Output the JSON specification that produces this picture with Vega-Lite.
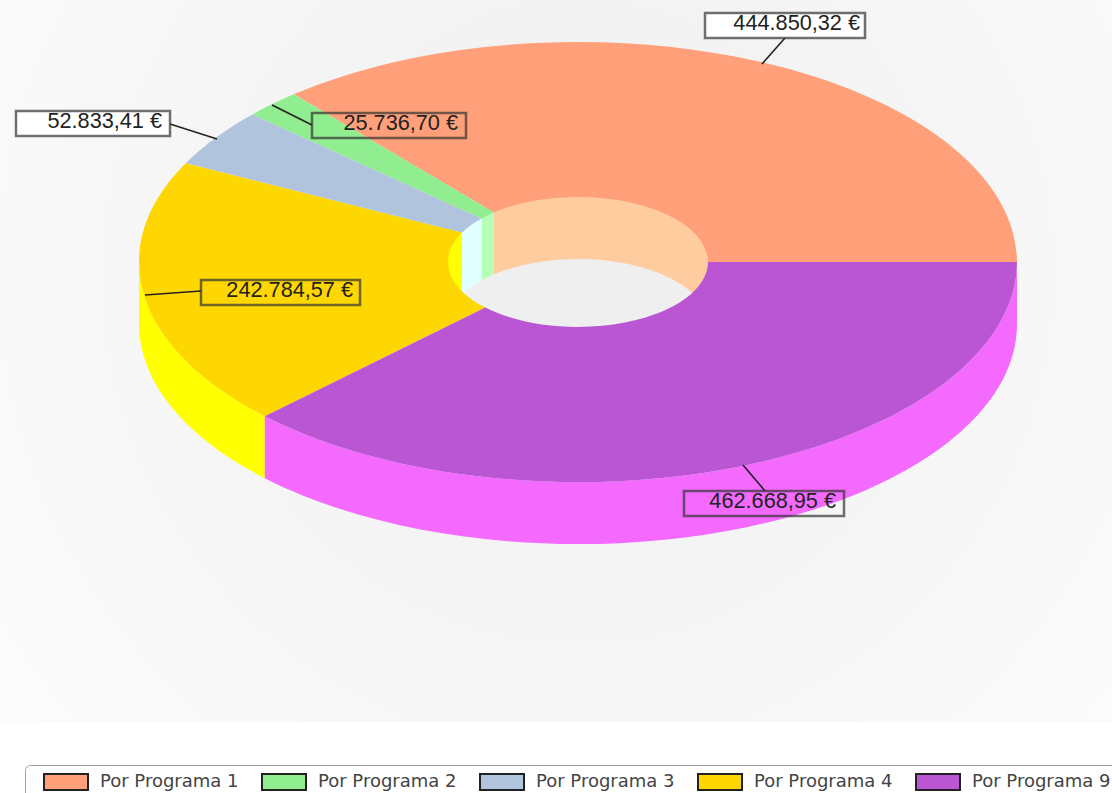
{
"$schema":"https://vega.github.io/schema/vega-lite/v6.json",
"width":1112,"height":793,"padding":0,"autosize":{"type":"none"},
"background":"white",
"config":{"view":{"stroke":null},"font":"Liberation Sans"},
"datasets":{
"fondo":[{"x0":0,"x1":1112,"y0":0,"y1":722}],
"partes":[
{"parte":"Hueco 1","pieza":"h1"},
{"parte":"Hueco 2","pieza":"h2"},
{"parte":"Hueco 3","pieza":"h3"},
{"parte":"Hueco 4","pieza":"h4"},
{"parte":"Fondo hueco","pieza":"fh"},
{"parte":"Lateral 4","pieza":"l4"},
{"parte":"Lateral 9","pieza":"l9"},
{"parte":"Por Programa 1","pieza":"p1","importe":444850.32},
{"parte":"Por Programa 2","pieza":"p2","importe":25736.70},
{"parte":"Por Programa 3","pieza":"p3","importe":52833.41},
{"parte":"Por Programa 4","pieza":"p4","importe":242784.57},
{"parte":"Por Programa 9","pieza":"p9","importe":462668.95}
],
"etiquetas":[
{"programa":"Por Programa 1","texto":"444.850,32 €","bx0":705,"bx1":865,"by0":13,"by1":38,"tx":860,"ty":30,"lx0":785,"ly0":38,"lx1":762,"ly1":64},
{"programa":"Por Programa 2","texto":"25.736,70 €","bx0":312,"bx1":466,"by0":113,"by1":138,"tx":458,"ty":130,"lx0":272,"ly0":105,"lx1":312,"ly1":125},
{"programa":"Por Programa 3","texto":"52.833,41 €","bx0":16,"bx1":170,"by0":111,"by1":136,"tx":162,"ty":128,"lx0":170,"ly0":124,"lx1":217,"ly1":139},
{"programa":"Por Programa 4","texto":"242.784,57 €","bx0":201,"bx1":360,"by0":280,"by1":305,"tx":353,"ty":297,"lx0":145,"ly0":295,"lx1":201,"ly1":291},
{"programa":"Por Programa 9","texto":"462.668,95 €","bx0":684,"bx1":844,"by0":491,"by1":516,"tx":836,"ty":508,"lx0":743,"ly0":465,"lx1":765,"ly1":491}
]
},
"layer":[
{"data":{"name":"fondo"},
"mark":{"type":"rect","fill":{"gradient":"radial","x1":0.52,"y1":0.42,"r1":0,"x2":0.52,"y2":0.42,"r2":0.72,"stops":[{"offset":0,"color":"#eeeeee"},{"offset":0.45,"color":"#f5f5f5"},{"offset":0.8,"color":"#fafafa"},{"offset":1,"color":"#fefefe"}]}},
"encoding":{
"x":{"field":"x0","type":"quantitative","scale":{"domain":[0,1112],"range":[0,1112],"nice":false,"zero":false},"axis":null},
"x2":{"field":"x1"},
"y":{"field":"y0","type":"quantitative","scale":{"domain":[0,793],"range":[0,793],"nice":false,"zero":false},"axis":null},
"y2":{"field":"y1"}}},
{"data":{"name":"partes"},
"mark":{"type":"point","filled":true,"opacity":1,"strokeWidth":0},
"encoding":{
"x":{"datum":578,"type":"quantitative"},
"y":{"datum":262,"type":"quantitative"},
"size":{"value":4},
"shape":{"field":"pieza","type":"nominal","legend":null,"scale":{
"domain":["h1","h2","h3","h4","fh","l4","l9","p1","p2","p3","p4","p9"],
"range":[
"M-84.2,-70H135V70H-84.2Z",
"M-96.4,-70H-84.2V70H-96.4Z",
"M-116.2,-70H-96.4V70H-116.2Z",
"M-135,-70H-116.2V70H-135Z",
"M-130,62A130,65 0 1 0 130,62A130,65 0 1 0 -130,62Z",
"M-439,0A439,220 0 0 0 -313.2,154.2L-313.2,216.2A439,220 0 0 1 -439,62Z",
"M-313.2,154.2A439,220 0 0 0 439,0L439,62A439,220 0 0 1 -313.2,216.2Z",
"M439,0A439,220 0 0 0 -284.2,-167.7L-84.2,-49.5A130,65 0 0 1 130,0Z",
"M-284.2,-167.7A439,220 0 0 0 -325.6,-147.6L-96.4,-43.6A130,65 0 0 1 -84.2,-49.5Z",
"M-325.6,-147.6A439,220 0 0 0 -392.3,-98.7L-116.2,-29.2A130,65 0 0 1 -96.4,-43.6Z",
"M-392.3,-98.7A439,220 0 0 0 -313.2,154.2L-92.7,45.5A130,65 0 0 1 -116.2,-29.2Z",
"M-313.2,154.2A439,220 0 0 0 439,0L130,0A130,65 0 0 1 -92.7,45.5Z"
]}},
"color":{"field":"parte","type":"nominal","sort":null,"scale":{
"domain":["Hueco 1","Hueco 2","Hueco 3","Hueco 4","Fondo hueco","Lateral 4","Lateral 9","Por Programa 1","Por Programa 2","Por Programa 3","Por Programa 4","Por Programa 9"],
"range":["#ffcc9f","#b6ffb6","#e0ffff","#ffff00","#efefef","#ffff00","#f46aff","#ffa07a","#90ee90","#b0c4de","#ffd700","#ba55d3"]},
"legend":{"values":["Por Programa 1","Por Programa 2","Por Programa 3","Por Programa 4","Por Programa 9"],"title":null,"orient":"none","legendX":25,"legendY":765,"direction":"horizontal","columns":5,"gridAlign":"all","padding":8,"fillColor":"#ffffff","strokeColor":"#a0a0a0","cornerRadius":5,"symbolType":"M0.4,-1.6H9.2V1.6H0.4Z","symbolSize":100,"symbolStrokeColor":"#222222","symbolStrokeWidth":2,"symbolOpacity":1,"labelOffset":49,"columnPadding":12,"labelFont":"DejaVu Sans","labelFontSize":18,"labelColor":"#444444","labelLimit":300}}
}},
{"data":{"name":"etiquetas"},"transform":[{"filter":{"field":"programa","oneOf":["Por Programa 1","Por Programa 3"]}}],
"mark":{"type":"rect","fill":"#ffffff"},
"encoding":{"x":{"field":"bx0","type":"quantitative"},"x2":{"field":"bx1"},"y":{"field":"by0","type":"quantitative"},"y2":{"field":"by1"}}},
{"data":{"name":"etiquetas"},
"mark":{"type":"rule","color":"#222222","strokeWidth":1.6},
"encoding":{"x":{"field":"lx0","type":"quantitative"},"x2":{"field":"lx1"},"y":{"field":"ly0","type":"quantitative"},"y2":{"field":"ly1"}}},
{"data":{"name":"etiquetas"},
"mark":{"type":"rect","filled":false,"stroke":"#333333","strokeOpacity":0.7,"strokeWidth":2.5},
"encoding":{"x":{"field":"bx0","type":"quantitative"},"x2":{"field":"bx1"},"y":{"field":"by0","type":"quantitative"},"y2":{"field":"by1"}}},
{"data":{"name":"etiquetas"},
"mark":{"type":"text","align":"right","baseline":"alphabetic","font":"Liberation Sans","fontSize":21.7,"fill":"#222222"},
"encoding":{"x":{"field":"tx","type":"quantitative"},"y":{"field":"ty","type":"quantitative"},"text":{"field":"texto","type":"nominal"}}}
]
}
